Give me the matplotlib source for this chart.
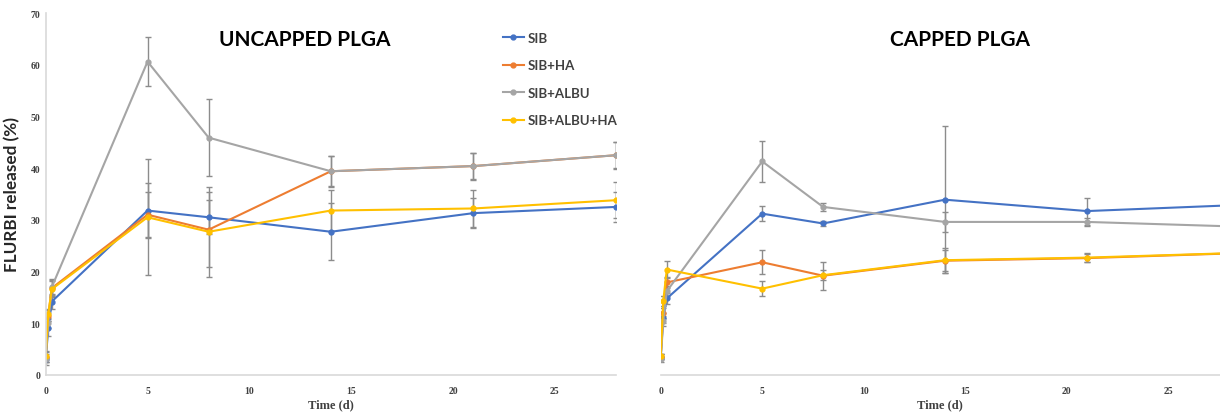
import matplotlib
matplotlib.use("Agg")
import matplotlib.pyplot as plt
from matplotlib.lines import Line2D

# ---------------- data ----------------
time = [0, 0.125, 0.3, 5, 8, 14, 21, 28]
series = ["SIB", "SIB+HA", "SIB+ALBU", "SIB+ALBU+HA"]
colors = ["#4472C4", "#ED7D31", "#A5A5A5", "#FFC000"]

# Uncapped PLGA
unc_sib = [3.0, 9.0, 14.2, 31.8, 30.5, 27.7, 31.3, 32.5]
unc_sib_err = [0.5, 1.5, 1.5, 5.3, 3.3, 5.5, 2.9, 2.9]
unc_ha = [3.5, 11.5, 16.8, 31.0, 28.1, 39.4, 40.4, 42.5]
unc_ha_err = [1.0, 1.0, 1.5, 4.4, 7.3, 2.9, 2.5, 2.5]
unc_albu = [3.0, 10.0, 17.0, 60.6, 45.9, 39.4, 40.4, 42.5]
unc_albu_err = [1.0, 1.0, 1.5, 4.8, 7.4, 3.0, 2.6, 2.6]
unc_albuha = [3.6, 11.8, 16.6, 30.5, 27.7, 31.8, 32.2, 33.8]
unc_albuha_err = [1.0, 1.0, 1.5, 11.2, 8.7, 3.9, 3.5, 3.5]

# Capped PLGA
cap_sib = [3.5, 11.0, 14.8, 31.2, 29.3, 33.9, 31.7, 32.8]
cap_sib_err = [0.5, 1.0, 1.0, 1.4, 0.4, 14.2, 2.6, 1.0]
cap_ha = [3.5, 12.0, 17.9, 21.8, 19.2, 22.1, 22.6, 23.5]
cap_ha_err = [0.5, 1.0, 1.0, 2.3, 2.7, 2.0, 0.8, 0.5]
cap_albu = [3.0, 10.4, 16.2, 41.3, 32.5, 29.6, 29.6, 28.75]
cap_albu_err = [0.5, 1.0, 1.0, 4.0, 0.7, 1.9, 0.8, 0.5]
cap_albuha = [3.6, 14.3, 20.4, 16.7, 19.3, 22.2, 22.7, 23.55]
cap_albuha_err = [0.5, 1.0, 1.6, 1.4, 1.0, 2.4, 0.8, 0.5]

x_ticks = [0, 5, 10, 15, 20, 25]
y_ticks = [0, 10, 20, 30, 40, 50, 60, 70]

panels = [
    ("UNCAPPED PLGA", [unc_sib, unc_ha, unc_albu, unc_albuha],
     [unc_sib_err, unc_ha_err, unc_albu_err, unc_albuha_err]),
    ("CAPPED PLGA", [cap_sib, cap_ha, cap_albu, cap_albuha],
     [cap_sib_err, cap_ha_err, cap_albu_err, cap_albuha_err]),
]

# ---------------- figure ----------------
W, H = 1220, 414
fig = plt.figure(figsize=(W / 100, H / 100), dpi=100)

ax_l = fig.add_axes([45.7 / W, (H - 376) / H, (616 - 45.7) / W, (376 - 14) / H])
ax_r = fig.add_axes([660.7 / W, (H - 376) / H, (W - 660.7) / W, (376 - 14) / H])

spine_col = "#D9D9D9"
tick_col = "#404040"

for ax, (title, vals, errs), xmax in zip([ax_l, ax_r], panels, [28, 27.55]):
    for name, v, e, c in zip(series, vals, errs, colors):
        ax.errorbar(time, v, yerr=e, color=c, lw=1.5, marker="o", ms=3.5,
                    ecolor="#8C8C8C", elinewidth=1.0, capsize=2, capthick=1.0,
                    label=name, clip_on=True)
    ax.set_xlim(0, xmax)
    ax.set_ylim(0, 70)
    ax.set_xticks(x_ticks)
    ax.set_yticks(y_ticks)
    for s in ["top", "right"]:
        ax.spines[s].set_visible(False)
    ax.spines["bottom"].set_color(spine_col)
    ax.spines["bottom"].set_linewidth(1.2)
    ax.spines["left"].set_color(spine_col)
    ax.spines["left"].set_linewidth(1.2)
    ax.tick_params(axis="both", length=0, labelsize=7, labelcolor=tick_col)
    ax.tick_params(axis="x", pad=8)
    ax.tick_params(axis="y", pad=4)
    for lab in ax.get_xticklabels() + ax.get_yticklabels():
        lab.set_fontfamily("Liberation Serif")
        lab.set_fontweight("bold")
    ax.set_xlabel("Time (d)", fontfamily="Liberation Serif", fontweight="bold",
                  fontsize=9, color=tick_col, labelpad=2)
    ax.patch.set_alpha(0)

ax_r.spines["left"].set_visible(False)
ax_r.tick_params(axis="y", labelleft=False)

ax_l.set_ylabel("FLURBI released (%)", fontfamily="Lato", fontweight="bold",
                fontsize=12.3, color="#262626", labelpad=7)

fig.text(305 / W, 1 - 40 / H, "UNCAPPED PLGA", ha="center", va="center",
         fontfamily="Lato", fontweight="bold", fontsize=15, color="#000000")
fig.text(960 / W, 1 - 40 / H, "CAPPED PLGA", ha="center", va="center",
         fontfamily="Lato", fontweight="bold", fontsize=15, color="#000000")

handles = [Line2D([], [], color=c, lw=1.5, marker="o", ms=3.5) for c in colors]
leg = ax_l.legend(handles, series, loc="upper left",
                  bbox_to_anchor=(491 / W, 1 - 21 / H),
                  bbox_transform=fig.transFigure, frameon=False,
                  handlelength=1.6, handletextpad=0.3, labelspacing=1.17,
                  prop={"family": "Lato", "weight": "bold", "size": 9.5})
for t in leg.get_texts():
    t.set_color("#404040")

fig.savefig("out.png", dpi=100)
